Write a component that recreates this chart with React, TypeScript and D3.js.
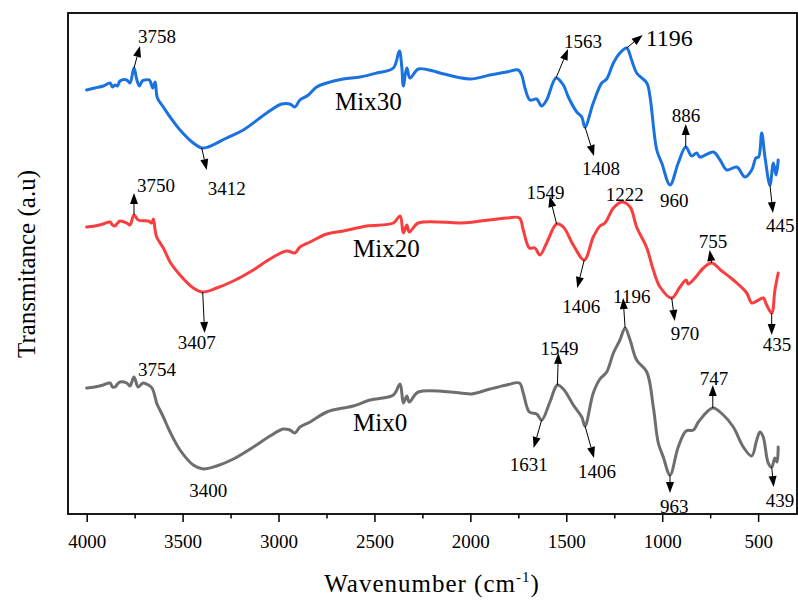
import React from "react";
import * as d3 from "d3";

// ---------- data (wavenumber cm^-1, transmittance a.u.) ----------
const mix30: [number, number][] = [
  [4003,424],[3960,426],[3916,428],[3881,431],[3868,427],[3855,429],[3842,428],[3829,433],[3794,434],[3777,431],[3756,446],[3741,434],[3728,428],[3713,433],[3699,434],[3676,434],[3658,426],[3646,432],[3634,416],[3603,407],[3568,397],[3516,384],[3447,371],[3403,366],[3369,367],[3273,376],[3186,384],[3064,401],[2986,410],[2943,410],[2917,407],[2891,414],[2847,419],[2804,427],[2751,431],[2665,435],[2578,437],[2491,441],[2404,446],[2373,463],[2360,447],[2352,428],[2334,446],[2317,436],[2274,445],[2196,443],[2161,441],[2004,435],[1900,439],[1813,442],[1753,444],[1735,439],[1718,426],[1692,414],[1657,415],[1631,408],[1605,414],[1556,436],[1518,429],[1492,417],[1448,402],[1422,397],[1405,387],[1362,411],[1318,431],[1292,435],[1257,451],[1223,461],[1188,466],[1162,454],[1136,441],[1083,431],[1066,417],[1031,364],[1005,351],[962,329],[919,351],[880,367],[849,358],[823,361],[806,357],[736,362],[701,354],[666,344],[614,347],[571,337],[536,344],[514,356],[500,357],[484,381],[467,357],[441,329],[423,351],[409,339],[398,354]
];
const mix20: [number, number][] = [
  [4003,287],[3960,288],[3916,290],[3881,292],[3868,289],[3855,288],[3842,291],[3829,293],[3794,291],[3777,289],[3756,299],[3734,294],[3681,293],[3664,291],[3655,295],[3646,284],[3638,277],[3603,266],[3568,252],[3516,239],[3447,226],[3398,222],[3325,226],[3238,233],[3134,244],[3047,255],[2960,263],[2917,261],[2891,267],[2838,272],[2751,280],[2665,283],[2543,288],[2404,291],[2369,298],[2352,281],[2334,289],[2321,282],[2274,291],[2057,291],[1987,292],[1813,296],[1747,296],[1727,284],[1695,266],[1666,266],[1640,259],[1605,271],[1553,290],[1518,287],[1466,269],[1409,254],[1362,277],[1327,288],[1301,291],[1257,306],[1214,312],[1170,307],[1136,287],[1083,266],[1049,244],[1014,227],[953,216],[910,227],[878,234],[867,230],[823,238],[788,246],[745,251],[692,243],[632,234],[562,221],[536,211],[510,213],[476,216],[458,209],[432,201],[415,224],[398,241]
];
const mix0: [number, number][] = [
  [4003,126],[3960,127],[3916,129],[3881,131],[3868,127],[3855,127],[3842,130],[3829,132],[3794,131],[3777,128],[3756,137],[3734,127],[3709,131],[3681,129],[3662,126],[3646,117],[3638,111],[3603,97],[3568,82],[3516,64],[3447,49],[3395,45],[3325,48],[3238,55],[3134,67],[3047,78],[2978,85],[2943,84],[2917,81],[2891,87],[2838,92],[2751,102],[2665,106],[2613,108],[2526,114],[2404,119],[2369,130],[2352,111],[2334,118],[2321,112],[2274,122],[2057,121],[1996,120],[1900,125],[1813,129],[1747,131],[1727,121],[1695,102],[1657,100],[1631,94],[1588,112],[1549,129],[1518,125],[1466,109],[1422,97],[1405,88],[1362,121],[1327,135],[1292,142],[1257,161],[1223,174],[1196,186],[1170,174],[1136,154],[1083,142],[1049,107],[1023,71],[997,57],[962,39],[919,67],[878,83],[840,84],[814,92],[739,106],[684,99],[632,87],[580,67],[536,58],[510,74],[493,82],[476,77],[450,51],[432,47],[415,56],[404,52],[398,67]
];

const seriesNames = ["Mix30", "Mix20", "Mix0"];
const seriesColors = ["#1a72e0", "#f83e3e", "#6e6e6e"];
const majorTicks = [4000, 3500, 3000, 2500, 2000, 1500, 1000, 500];
const minorTicks = [3750, 3250, 2750, 2250, 1750, 1250, 750];
const xDomain: [number, number] = [4100, 300];
const yDomain: [number, number] = [0, 501];

// peak annotations: label text, wavenumber on curve, arrow offset (px), label offset (px)
type Ann = { t: string; wn: number; a: [number, number] | null; l: [number, number]; big?: boolean };
const ann30: Ann[] = [
  { t: "3758", wn: 3756, a: [6, -22], l: [4, -25] },
  { t: "3412", wn: 3403, a: [5, 22], l: [6, 47] },
  { t: "1563", wn: 1556, a: [12, -29], l: [8, -30] },
  { t: "1196", wn: 1188, a: [16, -13], l: [19, -2], big: true },
  { t: "1408", wn: 1405, a: [9, 29], l: [-3, 48] },
  { t: "886", wn: 880, a: [0, -23], l: [-14, -25] },
  { t: "960", wn: 962, a: null, l: [-10, 22] },
  { t: "445", wn: 441, a: [3, 28], l: [-4, 47] },
];
const ann20: Ann[] = [
  { t: "3750", wn: 3756, a: [0, -22], l: [3, -23] },
  { t: "3407", wn: 3398, a: [2, 41], l: [-25, 57] },
  { t: "1549", wn: 1553, a: [-7, -28], l: [-30, -25] },
  { t: "1222", wn: 1214, a: null, l: [-16, -1] },
  { t: "1406", wn: 1409, a: [-7, 28], l: [-22, 53] },
  { t: "970", wn: 953, a: [3, 23], l: [-1, 42] },
  { t: "755", wn: 745, a: [-2, -13], l: [-13, -15] },
  { t: "435", wn: 432, a: [0, 22], l: [-9, 38] },
];
const ann0: Ann[] = [
  { t: "3754", wn: 3756, a: null, l: [4, -1] },
  { t: "3400", wn: 3395, a: null, l: [-14, 28] },
  { t: "1631", wn: 1631, a: [-8, 28], l: [-32, 51] },
  { t: "1549", wn: 1549, a: [1, -32], l: [-17, -30] },
  { t: "1406", wn: 1405, a: [9, 32], l: [-7, 52] },
  { t: "1196", wn: 1196, a: [-2, -30], l: [-12, -25] },
  { t: "963", wn: 962, a: [0, 18], l: [-10, 38] },
  { t: "747", wn: 739, a: [0, -23], l: [-13, -23] },
  { t: "439", wn: 432, a: [2, 20], l: [-6, 40] },
];
const seriesData = [mix30, mix20, mix0];
const seriesAnn = [ann30, ann20, ann0];

const W = 798, H = 603;
const M = { left: 68, right: 797, top: 13, bottom: 514 };
const FONT = "'Liberation Serif', 'Times New Roman', serif";

function valueAt(data: [number, number][], wn: number): number {
  for (let i = 0; i < data.length - 1; i++) {
    const [x0, y0] = data[i];
    const [x1, y1] = data[i + 1];
    if (wn <= x0 && wn >= x1) {
      if (x0 === x1) return y0;
      return y0 + ((wn - x0) / (x1 - x0)) * (y1 - y0);
    }
  }
  return data[data.length - 1][1];
}

function Arrow({ x1, y1, x2, y2 }: { x1: number; y1: number; x2: number; y2: number }) {
  const dx = x2 - x1, dy = y2 - y1;
  const len = Math.sqrt(dx * dx + dy * dy) || 1;
  const ux = dx / len, uy = dy / len;
  const hl = Math.min(11, len), hw = 4;
  const bx = x2 - ux * hl, by = y2 - uy * hl;
  const p = `${x2},${y2} ${bx - uy * hw},${by + ux * hw} ${bx + uy * hw},${by - ux * hw}`;
  return (
    <g>
      <line x1={x1} y1={y1} x2={bx} y2={by} stroke="#000" strokeWidth={1} />
      <polygon points={p} fill="#000" />
    </g>
  );
}

export default function App() {
  const x = d3.scaleLinear().domain(xDomain).range([M.left, M.right]);
  const y = d3.scaleLinear().domain(yDomain).range([M.bottom, M.top]);
  const line = d3
    .line<[number, number]>()
    .x((d) => x(d[0]))
    .y((d) => y(d[1]))
    .curve(d3.curveCatmullRom.alpha(0.5));

  const labelPos: [number, number][] = [[335, 110], [353, 257], [353, 431]];

  return (
    <svg width={W} height={H} style={{ position: "absolute", left: 0, top: 0, background: "#fff" }} fontFamily={FONT}>
      <rect x={0} y={0} width={W} height={H} fill="#fff" />
      {seriesData.map((d, i) => (
        <path key={i} d={line(d) || ""} fill="none" stroke={seriesColors[i]} strokeWidth={3} strokeLinejoin="round" strokeLinecap="round" />
      ))}
      <rect x={M.left} y={M.top} width={M.right - M.left} height={M.bottom - M.top} fill="none" stroke="#000" strokeWidth={1.8} />
      {majorTicks.map((t) => (
        <g key={t}>
          <line x1={x(t)} x2={x(t)} y1={M.bottom} y2={M.bottom + 8} stroke="#000" strokeWidth={1.5} />
          <text x={x(t)} y={548} textAnchor="middle" fontSize={19} fill="#000">{t}</text>
        </g>
      ))}
      {minorTicks.map((t) => (
        <line key={t} x1={x(t)} x2={x(t)} y1={M.bottom} y2={M.bottom + 4.5} stroke="#000" strokeWidth={1.5} />
      ))}
      <text x={432} y={592} textAnchor="middle" fontSize={25} letterSpacing={1} fill="#000">
        Wavenumber (cm<tspan dy={-10} fontSize={15}>-1</tspan><tspan dy={10}>)</tspan>
      </text>
      <text transform={`translate(35,264) rotate(-90)`} textAnchor="middle" fontSize={25} fill="#000">Transmitance (a.u)</text>
      {seriesNames.map((n, i) => (
        <text key={n} x={labelPos[i][0]} y={labelPos[i][1]} fontSize={25} fill="#000">{n}</text>
      ))}
      {seriesAnn.map((list, si) =>
        list.map((a, j) => {
          const ax = x(a.wn);
          const ay = y(valueAt(seriesData[si], a.wn));
          return (
            <g key={`${si}-${j}`}>
              {a.a && <Arrow x1={ax} y1={ay} x2={ax + a.a[0]} y2={ay + a.a[1]} />}
              <text x={ax + a.l[0]} y={ay + a.l[1]} fontSize={a.big ? 24 : 19} fill="#000">{a.t}</text>
            </g>
          );
        })
      )}
    </svg>
  );
}
